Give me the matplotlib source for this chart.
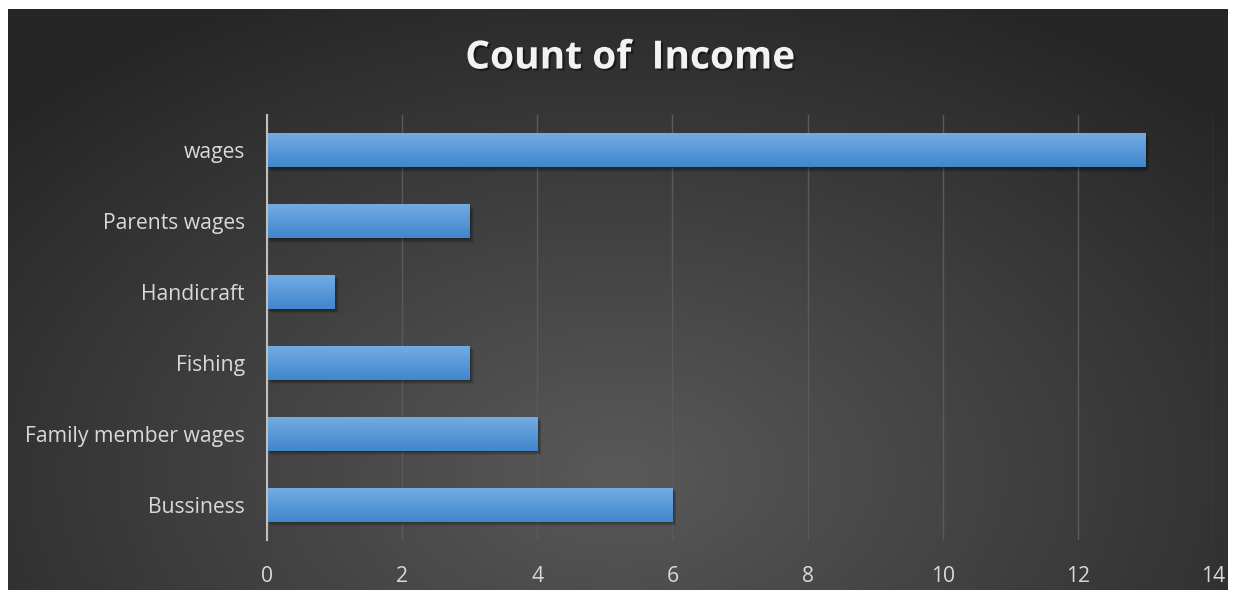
import numpy as np
import matplotlib
matplotlib.use("Agg")
import matplotlib.pyplot as plt
import matplotlib.patheffects as pe

# data
categories = ["Bussiness", "Family member wages", "Fishing", "Handicraft",
              "Parents wages", "wages"]
counts = [6, 4, 3, 1, 3, 13]
x_ticks = [0, 2, 4, 6, 8, 10, 12, 14]

W, H = 1236, 598
fig = plt.figure(figsize=(W / 100, H / 100), dpi=100, facecolor="white")

# dark panel with a soft radial glow, like the Excel chart style
bg = fig.add_axes([8 / W, 8 / H, (W - 16) / W, (H - 17) / H])
bg.set_axis_off()
gx, gy = np.meshgrid(np.linspace(-1, 1, 400), np.linspace(-1, 1, 200))
r = np.sqrt((gx * 0.75) ** 2 + ((gy - 0.6) * 0.55) ** 2)
shade = np.clip(1 - r, 0, 1)
grey = 0.15 + 0.20 * shade
rgb = np.dstack([grey, grey, grey])
bg.imshow(rgb, aspect="auto", extent=[0, 1, 0, 1], origin="upper")
bg.set_xlim(0, 1)
bg.set_ylim(0, 1)

ax = fig.add_axes([267 / W, 1 - 540 / H, (1213 - 267) / W, (540 - 115) / H])
ax.set_facecolor("none")

y = np.arange(len(categories))
# soft drop shadow under each bar
for k in range(1, 6):
    ax.barh(y - 0.012 * k, counts, height=0.48, left=0.012 * k,
            color="black", alpha=0.09, zorder=2, linewidth=0)
bars = ax.barh(y, counts, height=0.48, color="#5398db", zorder=3, linewidth=0)

# vertical blue gradient inside each bar
grad = np.linspace(0, 1, 64).reshape(-1, 1)
top = np.array([0.45, 0.67, 0.89])
bot = np.array([0.25, 0.53, 0.80])
gimg = (top * (1 - grad)[..., None] + bot * grad[..., None])
for b in bars:
    x0, y0 = b.get_x(), b.get_y()
    w, h = b.get_width(), b.get_height()
    im = ax.imshow(gimg, extent=[x0, x0 + w, y0, y0 + h], origin="upper",
                   aspect="auto", zorder=4)
    im.set_clip_path(b)

ax.set_xlim(0, 14)
ax.set_ylim(-0.5, len(categories) - 0.5)
ax.set_xticks(x_ticks)
ax.set_yticks(y)
ax.set_yticklabels(categories)
ax.grid(axis="x", color="#5a5a5a", linewidth=1.0, zorder=0)
ax.set_axisbelow(True)

for s in ["top", "right", "bottom"]:
    ax.spines[s].set_visible(False)
ax.spines["left"].set_color("#bfbfbf")
ax.spines["left"].set_linewidth(1.5)
ax.spines["left"].set_zorder(5)

ax.tick_params(axis="both", length=0, colors="#d9d9d9", labelsize=15.2)
ax.tick_params(axis="x", pad=19)
ax.tick_params(axis="y", pad=16)
for lab in ax.get_xticklabels() + ax.get_yticklabels():
    lab.set_family("Open Sans")

fig.text(630 / W, 1 - 58 / H, "Count of  Income", ha="center", va="center",
         fontsize=28, fontweight="bold", family="Open Sans", color="#f2f2f2",
         path_effects=[pe.withSimplePatchShadow(offset=(1.5, -1.5),
                                                shadow_rgbFace="black",
                                                alpha=0.45)])

fig.savefig("out.png", dpi=100, facecolor="white")
